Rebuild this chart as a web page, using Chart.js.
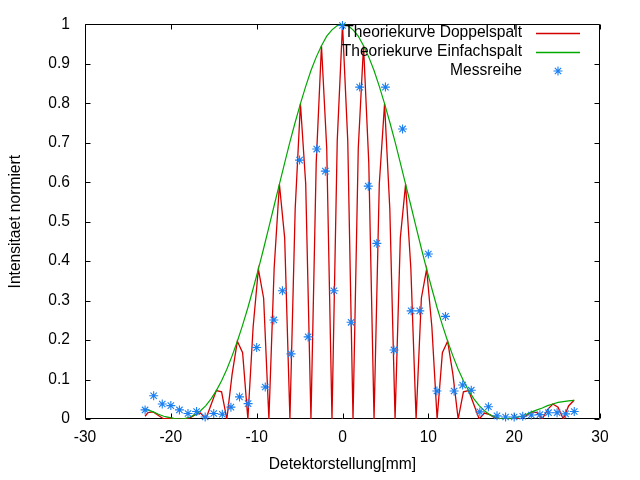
<!DOCTYPE html>
<html>
<head>
<meta charset="utf-8">
<script src="https://cdn.jsdelivr.net/npm/chart.js@4.4.0/dist/chart.umd.min.js"></script>
<style>
html,body{margin:0;padding:0;background:#ffffff;}
canvas{display:block;}
</style>
</head>
<body>
<canvas id="c" width="640" height="480"></canvas>
<script>
// x positions (mm) of the sampled theory curves
const curveX = [-23, -22.6625, -22.05, -21.4375, -20.825, -20.2125, -19.6, -18.9875, -18.375, -17.7625, -17.15, -16.5375, -15.925, -15.3125, -14.7, -14.0875, -13.475, -12.8625, -12.25, -11.6375, -11.025, -10.4125, -9.8, -9.1875, -8.575, -7.9625, -7.35, -6.7375, -6.125, -5.5125, -4.9, -4.2875, -3.675, -3.0625, -2.45, -1.8375, -1.225, -0.6125, 0, 0.6125, 1.225, 1.8375, 2.45, 3.0625, 3.675, 4.2875, 4.9, 5.5125, 6.125, 6.7375, 7.35, 7.9625, 8.575, 9.1875, 9.8, 10.4125, 11.025, 11.6375, 12.25, 12.8625, 13.475, 14.0875, 14.7, 15.3125, 15.925, 16.5375, 17.15, 17.7625, 18.375, 18.9875, 19.6, 20.2125, 20.825, 21.4375, 22.05, 22.6625, 23.275, 23.8875, 24.5, 25.1125, 25.725, 26.3375, 26.95, 27];

// Theoriekurve Doppelspalt
const doppelY = [0.007, 0.016, 0.018, 0.009, 0, 0.0025, 0.001, 0, 0, 0.003, 0.011, 0.015, 0, 0.036, 0.072, 0.069, 0, 0.113, 0.197, 0.168, 0, 0.233, 0.380, 0.306, 0, 0.382, 0.595, 0.459, 0, 0.532, 0.799, 0.596, 0, 0.649, 0.946, 0.686, 0, 0.705, 1, 0.705, 0, 0.686, 0.946, 0.649, 0, 0.596, 0.799, 0.532, 0, 0.459, 0.595, 0.382, 0, 0.306, 0.380, 0.233, 0, 0.168, 0.197, 0.113, 0, 0.069, 0.072, 0.036, 0, 0.015, 0.011, 0.003, 0, 0, 0.001, 0.0025, 0, 0.009, 0.018, 0.016, 0, 0.024, 0.038, 0.030, 0, 0.033, 0.047, 0.047];

// Theoriekurve Einfachspalt
const einfachY = [0.024, 0.023, 0.018, 0.012, 0.007, 0.004, 0.001, 0, 0.001, 0.005, 0.011, 0.021, 0.034, 0.051, 0.072, 0.097, 0.126, 0.160, 0.197, 0.238, 0.282, 0.330, 0.380, 0.432, 0.486, 0.541, 0.595, 0.649, 0.702, 0.752, 0.799, 0.843, 0.883, 0.917, 0.946, 0.970, 0.986, 0.997, 1, 0.997, 0.986, 0.970, 0.946, 0.917, 0.883, 0.843, 0.799, 0.752, 0.702, 0.649, 0.595, 0.541, 0.486, 0.432, 0.380, 0.330, 0.282, 0.238, 0.197, 0.160, 0.126, 0.097, 0.072, 0.051, 0.034, 0.021, 0.011, 0.005, 0.001, 0, 0.001, 0.004, 0.007, 0.012, 0.018, 0.023, 0.028, 0.034, 0.038, 0.042, 0.044, 0.046, 0.047, 0.047];

// Messreihe
const messX = [-23, -22, -21, -20, -19, -18, -17, -16, -15, -14, -13, -12, -11, -10, -9, -8, -7, -6, -5, -4, -3, -2, -1, 0, 1, 2, 3, 4, 5, 6, 7, 8, 9, 10, 11, 12, 13, 14, 15, 16, 17, 18, 19, 20, 21, 22, 23, 24, 25, 26, 27];
const messY = [0.023, 0.059, 0.038, 0.034, 0.023, 0.014, 0.019, 0.005, 0.014, 0.012, 0.030, 0.056, 0.039, 0.181, 0.081, 0.251, 0.325, 0.165, 0.656, 0.208, 0.684, 0.628, 0.325, 0.997, 0.245, 0.841, 0.590, 0.445, 0.841, 0.175, 0.735, 0.274, 0.274, 0.418, 0.071, 0.260, 0.071, 0.086, 0.073, 0.018, 0.031, 0.008, 0.005, 0.005, 0.007, 0.010, 0.011, 0.016, 0.016, 0.013, 0.019];

const xTicks = [-30, -20, -10, 0, 10, 20, 30];
const yTicks = [0, 0.1, 0.2, 0.3, 0.4, 0.5, 0.6, 0.7, 0.8, 0.9, 1];
const seriesNames = ['Theoriekurve Doppelspalt', 'Theoriekurve Einfachspalt', 'Messreihe'];
const xTitle = 'Detektorstellung[mm]';
const yTitle = 'Intensitaet normiert';

const RED = '#d40000', GREEN = '#00a800', BLUE = '#1a7ff0';
const seriesColors = [RED, GREEN, BLUE];
const FONT = '"Liberation Sans", Arial, sans-serif';
const FS = 15.6;

function pts(xs, ys) { return xs.map((x, i) => ({ x: x, y: ys[i] })); }

function starPath(ctx, x, y, r) {
  ctx.beginPath();
  ctx.moveTo(x - r, y); ctx.lineTo(x + r, y);
  ctx.moveTo(x, y - r); ctx.lineTo(x, y + r);
  const d = r * Math.SQRT1_2;
  ctx.moveTo(x - d, y - d); ctx.lineTo(x + d, y + d);
  ctx.moveTo(x - d, y + d); ctx.lineTo(x + d, y - d);
  ctx.stroke();
}

const frame = {
  id: 'frame',
  beforeDatasetsDraw(chart) {
    const ctx = chart.ctx, a = chart.chartArea;
    const xs = chart.scales.x, ys = chart.scales.y;
    ctx.save();
    ctx.strokeStyle = '#000';
    ctx.lineWidth = 1;
    const L = Math.round(a.left) + 0.5, R = Math.round(a.right) - 0.5;
    const T = Math.round(a.top) + 0.5, B = Math.round(a.bottom) - 0.5;
    ctx.beginPath();
    ctx.rect(L, T, R - L, B - T);
    ctx.stroke();
    ctx.beginPath();
    xTicks.forEach(v => {
      const p = Math.round(xs.getPixelForValue(v)) + 0.5;
      ctx.moveTo(p, B); ctx.lineTo(p, B - 5);
      ctx.moveTo(p, T); ctx.lineTo(p, T + 5);
    });
    yTicks.forEach(v => {
      const p = Math.round(ys.getPixelForValue(v)) + 0.5;
      ctx.moveTo(L, p); ctx.lineTo(L + 5, p);
      ctx.moveTo(R, p); ctx.lineTo(R - 5, p);
    });
    ctx.stroke();
    ctx.restore();
  },
  afterDraw(chart) {
    const ctx = chart.ctx;
    ctx.save();
    ctx.font = FS + 'px ' + FONT;
    ctx.textAlign = 'right';
    ctx.textBaseline = 'middle';
    chart.data.datasets.forEach((ds, i) => {
      const y = 33 + 19 * i;
      ctx.fillStyle = '#000000';
      ctx.fillText(ds.label, 522, y);
      ctx.strokeStyle = seriesColors[i];
      if (ds.showLine) {
        ctx.lineWidth = 1.6;
        ctx.beginPath();
        ctx.moveTo(536, y + 0.5); ctx.lineTo(580, y + 0.5);
        ctx.stroke();
      } else {
        ctx.lineWidth = 1.1;
        starPath(ctx, 558, y, 4.5);
      }
    });
    ctx.restore();
  }
};

new Chart(document.getElementById('c'), {
  type: 'scatter',
  data: {
    datasets: [
      { label: seriesNames[0], data: pts(curveX, doppelY), showLine: true, borderColor: RED, backgroundColor: RED, borderWidth: 1.3, pointRadius: 0, tension: 0, order: 3 },
      { label: seriesNames[1], data: pts(curveX, einfachY), showLine: true, borderColor: GREEN, backgroundColor: GREEN, borderWidth: 1.2, pointRadius: 0, tension: 0, order: 2 },
      { label: seriesNames[2], data: pts(messX, messY), showLine: false, borderColor: BLUE, backgroundColor: BLUE, pointStyle: 'star', pointRadius: 4.5, pointBorderWidth: 1.1, clip: false, order: 1 }
    ]
  },
  options: {
    responsive: false,
    animation: false,
    devicePixelRatio: 1,
    events: [],
    layout: { padding: { top: 20, right: 40, left: 0, bottom: 0 } },
    plugins: { legend: { display: false }, tooltip: { enabled: false } },
    scales: {
      x: {
        type: 'linear', min: -30, max: 30,
        afterBuildTicks: s => { s.ticks = xTicks.map(v => ({ value: v })); },
        afterFit: s => { s.height = 61; },
        grid: { display: false, drawTicks: false },
        border: { display: false },
        ticks: { padding: 9, color: '#000', font: { family: FONT, size: FS }, callback: v => String(v) },
        title: { display: true, text: xTitle, color: '#000', font: { family: FONT, size: FS }, padding: { top: 0, bottom: 6 } }
      },
      y: {
        type: 'linear', min: 0, max: 1,
        afterBuildTicks: s => { s.ticks = yTicks.map(v => ({ value: v })); },
        afterFit: s => { s.width = 85; },
        grid: { display: false, drawTicks: false },
        border: { display: false },
        ticks: { padding: 15, color: '#000', font: { family: FONT, size: FS }, callback: v => String(Math.round(v * 10) / 10) },
        title: { display: true, text: yTitle, color: '#000', font: { family: FONT, size: FS }, padding: { top: 6, bottom: 0 } }
      }
    }
  },
  plugins: [frame]
});
</script>
</body>
</html>
